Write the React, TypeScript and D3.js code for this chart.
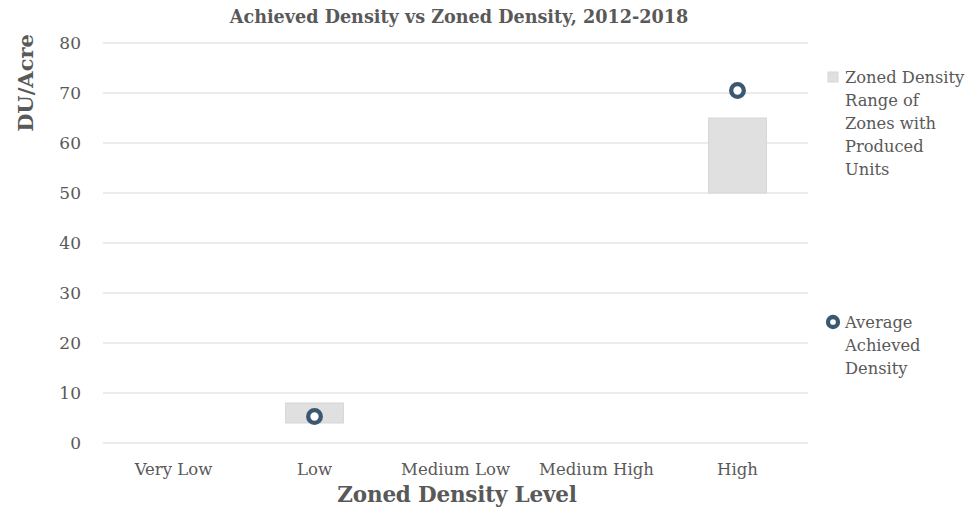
import React from "react";
import * as d3 from "d3";

const categories = ["Very Low", "Low", "Medium Low", "Medium High", "High"];
// zoned density range per level: [min, max] in DU/acre
const rangeMin = [0, 4, 0, 0, 50];
const rangeMax = [0, 8, 0, 0, 65];
// average achieved density per level (null = none)
const achieved: (number | null)[] = [null, 5.3, null, null, 70.5];
const yTicks = [0, 10, 20, 30, 40, 50, 60, 70, 80];

const W = 971;
const H = 510;
const FONT = "'DejaVu Serif', serif";
const TEXT = "#595959";
const GRID = "#d9d9d9";
const BAR = "#e0e0e0";
const MARK = "#3b5870";

export default function App() {
  const left = 103;
  const right = 808;
  const top = 43;
  const bottom = 443;

  const x = d3.scaleBand<string>().domain(categories).range([left, right]);
  const y = d3.scaleLinear().domain([0, 80]).range([bottom, top]);
  const cx = (c: string) => (x(c) as number) + x.bandwidth() / 2;
  const barW = x.bandwidth() * 0.41;

  return (
    <svg width={W} height={H} style={{ position: "absolute", left: 0, top: 0, background: "#fff" }}>
      <text x={459} y={23} textAnchor="middle" fontFamily={FONT} fontWeight="bold" fontSize={17.6} fill={TEXT}>
        Achieved Density vs Zoned Density, 2012-2018
      </text>

      {yTicks.map((t) => (
        <g key={t}>
          <line x1={left} x2={right} y1={y(t)} y2={y(t)} stroke={GRID} strokeWidth={1} />
          <text x={81} y={y(t) + 6} textAnchor="end" fontFamily={FONT} fontSize={17} fill={TEXT}>
            {t}
          </text>
        </g>
      ))}

      {categories.map((c, i) => (
        <g key={c}>
          {rangeMax[i] > rangeMin[i] && (
            <rect
              x={cx(c) - barW / 2}
              y={y(rangeMax[i])}
              width={barW}
              height={y(rangeMin[i]) - y(rangeMax[i])}
              fill={BAR}
              stroke="#d6d6d6"
              strokeWidth={1}
            />
          )}
          <text x={cx(c)} y={475} textAnchor="middle" fontFamily={FONT} fontSize={16.5} fill={TEXT}>
            {c}
          </text>
        </g>
      ))}

      {categories.map((c, i) =>
        achieved[i] != null ? (
          <circle key={c} cx={cx(c)} cy={y(achieved[i] as number)} r={6.3} fill="#fff" stroke={MARK} strokeWidth={4.3} />
        ) : null
      )}

      <text x={457} y={502} textAnchor="middle" fontFamily={FONT} fontWeight="bold" fontSize={21.5} fill={TEXT} letterSpacing={-0.2}>
        Zoned Density Level
      </text>
      <text
        transform={`translate(33,83) rotate(-90)`}
        textAnchor="middle"
        fontFamily={FONT}
        fontWeight="bold"
        fontSize={21}
        fill={TEXT}
      >
        DU/Acre
      </text>

      {/* legend */}
      <rect x={828} y={72} width={10} height={10} fill={BAR} stroke="#d6d6d6" />
      {["Zoned Density", "Range of", "Zones with", "Produced", "Units"].map((s, i) => (
        <text key={s} x={845} y={83 + i * 23} fontFamily={FONT} fontSize={16.3} fill={TEXT}>
          {s}
        </text>
      ))}
      <circle cx={833} cy={322} r={5} fill="#fff" stroke={MARK} strokeWidth={4.3} />
      {["Average", "Achieved", "Density"].map((s, i) => (
        <text key={s} x={845} y={328 + i * 23} fontFamily={FONT} fontSize={16.3} fill={TEXT}>
          {s}
        </text>
      ))}
    </svg>
  );
}
